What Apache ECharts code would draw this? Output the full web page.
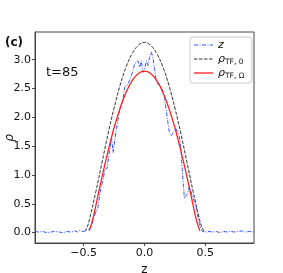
<!DOCTYPE html>
<html>
<head>
<meta charset="utf-8">
<script src="https://cdn.jsdelivr.net/npm/echarts@6/dist/echarts.min.js"></script>
<style>
html,body{margin:0;padding:0;background:#fff;}
#c{width:283px;height:273px;}
</style>
</head>
<body>
<div id="c"></div>
<script>
// ---- data ----
const zBlue = [-0.90,-0.87,-0.84,-0.80,-0.77,-0.74,-0.70,-0.67,-0.64,-0.60,-0.57,-0.55,-0.53,-0.51,-0.50,-0.49,-0.47,-0.45,
  -0.43,-0.42,-0.408,-0.394,-0.381,-0.367,-0.355,-0.34,-0.326,-0.307,-0.291,-0.271,-0.258,-0.244,-0.23,-0.217,-0.203,-0.19,-0.176,-0.163,-0.145,-0.122,-0.108,-0.095,-0.081,-0.067,-0.054,-0.04,-0.026,-0.013,
  0.0,0.015,0.028,0.042,0.056,0.069,0.082,0.096,0.107,0.118,0.13,0.145,0.164,0.18,0.193,0.205,0.219,0.232,0.246,0.26,0.273,0.287,0.30,0.31,0.32,0.328,0.341,0.355,0.368,0.38,0.395,0.41,0.423,0.437,0.45,0.465,0.477,
  0.49,0.51,0.53,0.56,0.59,0.62,0.65,0.68,0.71,0.74,0.77,0.80,0.83,0.86,0.90];
const rhoBlue = [0.02,0.01,0.02,0.00,0.01,0.02,0.01,0.00,0.02,0.01,0.03,0.01,0.04,0.02,0.05,0.03,0.06,0.05,
  0.15,0.25,0.31,0.28,0.45,0.69,0.80,0.92,1.09,1.12,1.36,1.65,1.39,1.62,1.80,1.97,2.14,2.22,2.32,2.52,2.55,2.64,2.72,2.81,2.93,2.90,2.98,2.87,2.98,2.78,
  2.84,2.98,2.90,3.04,3.13,3.04,2.85,2.64,2.58,2.55,2.55,2.50,2.35,2.10,1.90,1.73,1.68,1.72,1.76,1.80,1.82,1.66,1.44,1.10,0.80,0.60,0.57,0.68,0.80,0.72,0.63,0.53,0.45,0.30,0.16,0.06,0.02,
  0.03,0.01,0.02,0.01,0.02,0.00,0.02,0.01,0.02,0.01,0.02,0.03,0.01,0.02,0.01];

const zBlack = [-0.49,-0.47,-0.45,-0.40,-0.35,-0.30,-0.25,-0.20,-0.15,-0.10,-0.05,0.0,0.05,0.10,0.15,0.20,0.25,0.30,0.35,0.40,0.45,0.47,0.49];
const rhoBlack = [0.02,0.10,0.25,0.71,1.21,1.71,2.16,2.56,2.88,3.11,3.25,3.30,3.25,3.11,2.88,2.56,2.16,1.71,1.21,0.71,0.25,0.10,0.02];

const zRed = [-0.455,-0.43,-0.40,-0.35,-0.30,-0.25,-0.20,-0.15,-0.10,-0.05,0.0,0.05,0.10,0.15,0.20,0.25,0.30,0.35,0.40,0.43,0.455];
const rhoRed = [0.03,0.19,0.47,0.96,1.41,1.82,2.16,2.44,2.64,2.76,2.80,2.76,2.64,2.44,2.16,1.82,1.41,0.96,0.47,0.19,0.03];

const xTicks = [-0.5, 0.0, 0.5];
const yTicks = [0.0, 0.5, 1.0, 1.5, 2.0, 2.5, 3.0];

const pair = (xs, ys) => xs.map((x, i) => [x, ys[i]]);
const fmt = v => (v < 0 ? '\u2212' : '') + Math.abs(v).toFixed(1);
const FONT = 'DejaVu Sans';

const BLUE = '#3355ff', BLACK = '#333', RED = '#ff2020';
const blueDash = [4, 1.5, 1, 1.5], blackDash = [3.5, 1.5];

// legend drawn as graphic (box, line samples, labels)
const LX = 190, LY = 37, LW = 62, LH = 46;
const rows = [
  {y: LY + 8, color: BLUE, dash: blueDash, w: 1, text: '{i|z}'},
  {y: LY + 22, color: BLACK, dash: blackDash, w: 1, text: '{i|ρ}{s|TF, 0}'},
  {y: LY + 36, color: RED, dash: null, w: 1.3, text: '{i|ρ}{s|TF, Ω}'}
];
const legendGraphics = [{
  type: 'rect', shape: {x: LX, y: LY, width: LW, height: LH, r: 3},
  style: {fill: '#fff', stroke: '#ccc', lineWidth: 1}, z: 100
}];
rows.forEach(r => {
  legendGraphics.push({
    type: 'line', shape: {x1: LX + 4, y1: r.y, x2: LX + 23, y2: r.y},
    style: {stroke: r.color, lineWidth: r.w, lineDash: r.dash || null}, z: 101
  });
  legendGraphics.push({
    type: 'text', x: LX + 28, y: r.y, z: 101,
    style: {
      text: r.text, verticalAlign: 'middle', fill: '#111',
      rich: {
        i: {fontFamily: FONT, fontStyle: 'italic', fontSize: 11, fill: '#111'},
        s: {fontFamily: FONT, fontSize: 7.5, fill: '#111', padding: [6, 0, 0, 0]}
      }
    }
  });
});

const chart = echarts.init(document.getElementById('c'), null, {renderer: 'canvas'});
chart.setOption({
  animation: false,
  backgroundColor: '#fff',
  textStyle: {fontFamily: FONT},
  grid: {left: 35, right: 29, top: 32, bottom: 30, containLabel: false, outerBoundsMode: 'none',
         show: true, borderColor: '#444', borderWidth: 1, backgroundColor: 'transparent'},
  xAxis: {
    type: 'value', min: -0.9, max: 0.9,
    name: 'z', nameLocation: 'middle', nameGap: 19,
    nameTextStyle: {fontFamily: FONT, fontSize: 12, color: '#111'},
    axisLine: {show: true, onZero: false, lineStyle: {color: '#444', width: 1}},
    axisTick: {show: true, length: 3, inside: false, customValues: xTicks, lineStyle: {color: '#444'}},
    axisLabel: {customValues: xTicks, formatter: fmt, fontSize: 11, color: '#111', margin: 5, fontFamily: FONT},
    splitLine: {show: false}
  },
  yAxis: {
    type: 'value', min: -0.18, max: 3.48,
    axisLine: {show: true, onZero: false, lineStyle: {color: '#444', width: 1}},
    axisTick: {show: true, length: 3, inside: false, customValues: yTicks, lineStyle: {color: '#444'}},
    axisLabel: {customValues: yTicks, formatter: fmt, fontSize: 11, color: '#111', margin: 4, fontFamily: FONT},
    splitLine: {show: false}
  },
  series: [
    {
      name: 'z', type: 'line', data: pair(zBlue, rhoBlue), showSymbol: false, symbol: 'none',
      lineStyle: {color: BLUE, width: 1, type: blueDash}, itemStyle: {color: BLUE}, z: 3
    },
    {
      name: 'rho0', type: 'line', data: pair(zBlack, rhoBlack), showSymbol: false, symbol: 'none', smooth: 0.4,
      lineStyle: {color: BLACK, width: 1, type: blackDash}, itemStyle: {color: BLACK}, z: 2
    },
    {
      name: 'rhoW', type: 'line', data: pair(zRed, rhoRed), showSymbol: false, symbol: 'none', smooth: 0.4,
      lineStyle: {color: RED, width: 1.3}, itemStyle: {color: RED}, z: 4
    }
  ],
  graphic: [
    {type: 'text', left: 5, top: 37, style: {text: '(c)', font: 'bold 12px "DejaVu Sans"', fill: '#111'}},
    {type: 'text', left: 46, top: 66, style: {text: 't=85', font: '13px "DejaVu Sans"', fill: '#111'}},
    {type: 'text', x: 10, y: 138, rotation: Math.PI / 2,
     style: {text: 'ρ', font: 'italic 12px "DejaVu Sans"', fill: '#111', align: 'center', verticalAlign: 'middle'}}
  ].concat(legendGraphics)
});
</script>
</body>
</html>
